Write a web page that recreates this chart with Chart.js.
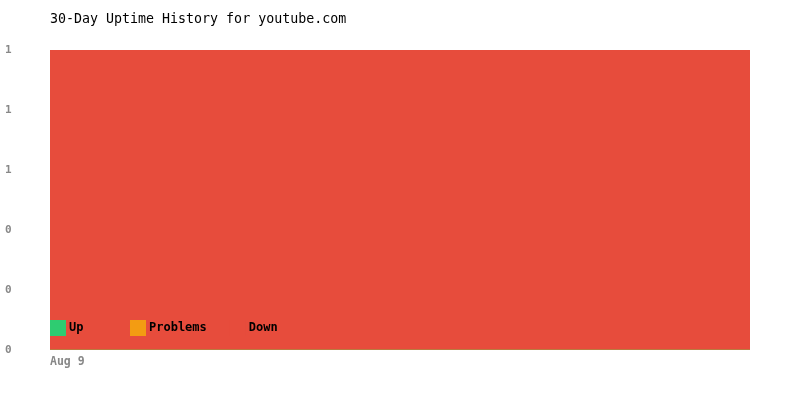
<!DOCTYPE html>
<html lang="en">
<head>
<meta charset="utf-8"/>
<title>30-Day Uptime History</title>
<script src="https://cdn.jsdelivr.net/npm/chart.js"></script>
<style>
  body { margin: 0; background: #fff; }
  .wrap { width: 800px; height: 400px; }
</style>
</head>
<body>
<div class="wrap"><canvas id="uptimeChart"></canvas></div>
<script>
const days = ['Aug 9'];
const upValues = [0];
const problemValues = [0];
const downValues = [1];
const seriesNames = ['Up', 'Problems', 'Down'];

const mono = "'DejaVu Sans Mono', monospace";

// legend drawn inside the plot, near its bottom edge
const insideLegend = {
  id: 'insideLegend',
  afterDatasetsDraw(chart) {
    const { ctx, chartArea } = chart;
    const y = chartArea.bottom - 30;
    let x = chartArea.left;
    ctx.save();
    ctx.font = 'bold 12px ' + mono;
    ctx.textBaseline = 'middle';
    ctx.textAlign = 'left';
    chart.data.datasets.forEach(ds => {
      ctx.fillStyle = ds.backgroundColor;
      ctx.fillRect(x, y, 16, 16);
      ctx.fillStyle = '#000';
      ctx.fillText(ds.label, x + 19, y + 8);
      const tw = ctx.measureText(ds.label).width;
      x += Math.max(80, 19 + tw + 23);
    });
    ctx.restore();
  }
};

// first day label sits at the left edge of the plot
const startLabel = {
  id: 'startLabel',
  afterDraw(chart) {
    const { ctx, chartArea } = chart;
    ctx.save();
    ctx.font = 'bold 11.5px ' + mono;
    ctx.fillStyle = '#888';
    ctx.textAlign = 'left';
    ctx.textBaseline = 'middle';
    ctx.fillText(chart.scales.x.getLabelForValue(0), chartArea.left, chartArea.bottom + 12);
    ctx.restore();
  }
};

new Chart(document.getElementById('uptimeChart').getContext('2d'), {
  type: 'bar',
  data: {
    labels: days,
    datasets: [
      { label: seriesNames[0], data: upValues, backgroundColor: '#2ecc71' },
      { label: seriesNames[1], data: problemValues, backgroundColor: '#f39c12' },
      { label: seriesNames[2], data: downValues, backgroundColor: '#e74c3c' }
    ]
  },
  options: {
    responsive: true,
    maintainAspectRatio: false,
    animation: false,
    layout: { padding: { left: 5, right: 50, top: 0, bottom: 42 } },
    datasets: { bar: { barPercentage: 1, categoryPercentage: 1 } },
    plugins: {
      legend: { display: false },
      tooltip: { enabled: false },
      title: {
        display: true,
        text: '30-Day Uptime History for youtube.com',
        align: 'start',
        fullSize: false,
        color: '#000',
        font: { family: mono, size: 13.3, weight: 'normal' },
        padding: { top: 12, bottom: 22 }
      }
    },
    scales: {
      x: {
        stacked: true,
        grid: { display: false },
        border: { display: false },
        ticks: { display: false }
      },
      y: {
        stacked: true,
        min: 0,
        max: 1,
        afterFit(scale) { scale.width = 45; },
        grid: { display: false },
        border: { display: false },
        ticks: {
          stepSize: 0.2,
          crossAlign: 'far',
          color: '#888',
          font: { family: mono, size: 11, weight: 'bold' },
          callback: v => Math.round(v)
        }
      }
    }
  },
  plugins: [insideLegend, startLabel]
});
</script>
</body>
</html>
